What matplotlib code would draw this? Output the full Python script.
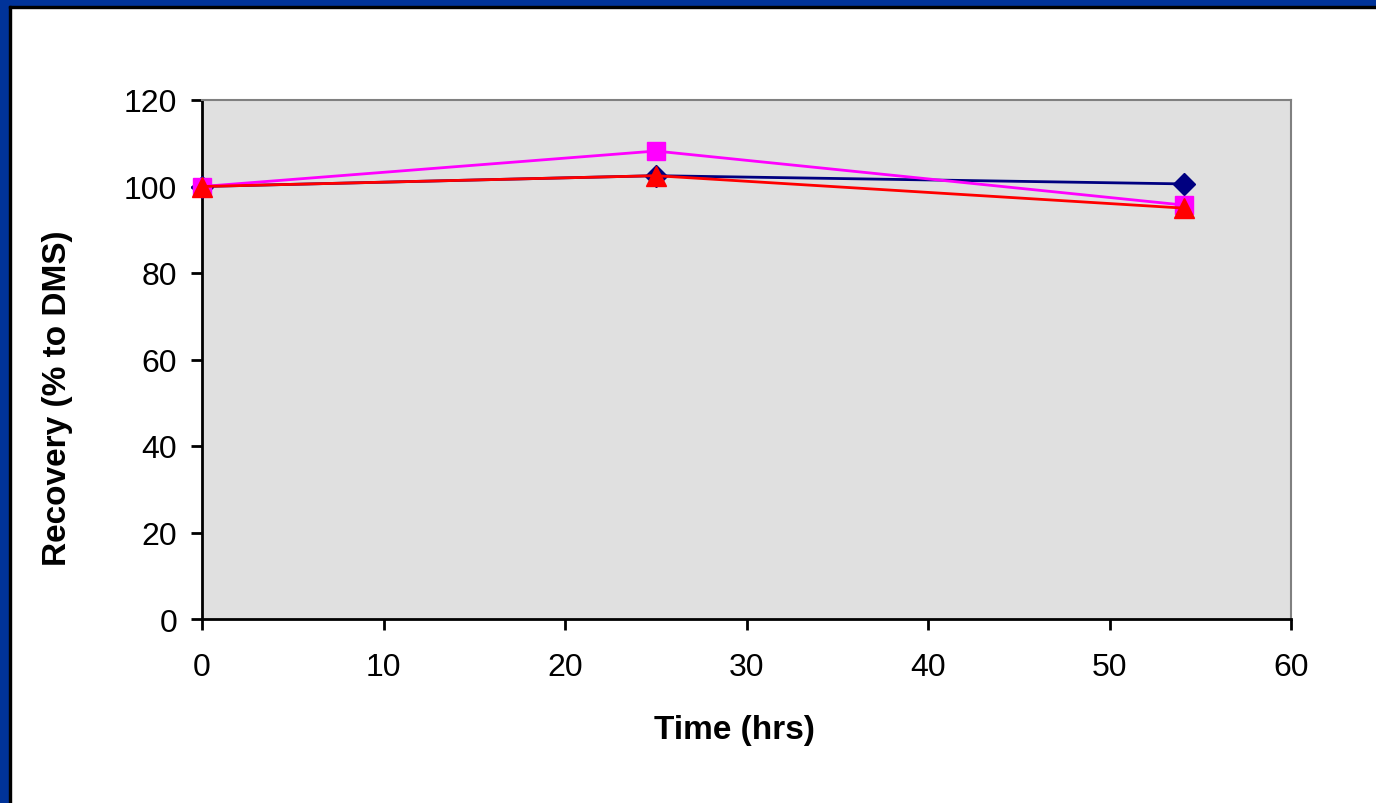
import matplotlib.pyplot as plt
from matplotlib.patches import Rectangle

plt.rcParams['font.family'] = ['Liberation Sans', 'DejaVu Sans']

hours = [0, 25, 54.1]
series_navy = [100, 102.5, 100.6]
series_magenta = [100, 108.2, 95.7]
series_red = [100, 102.5, 95.0]

W, H = 1376, 804
fig = plt.figure(figsize=(W / 100, H / 100), dpi=100)

# frame: blue bands at top and left with a thin black edge
fig.patches.append(Rectangle((0, 0), 9 / W, 1, transform=fig.transFigure, color='#003399', zorder=0))
fig.patches.append(Rectangle((0, 1 - 7 / H), 1, 7 / H, transform=fig.transFigure, color='#003399', zorder=0))
fig.patches.append(Rectangle((9 / W, 0), 2 / W, 1 - 7 / H, transform=fig.transFigure, color='black', zorder=0))
fig.patches.append(Rectangle((9 / W, 1 - 9 / H), 1, 2 / H, transform=fig.transFigure, color='black', zorder=0))

ax = fig.add_axes([202 / W, 1 - 620 / H, (1291 - 202) / W, (620 - 101) / H])
ax.set_facecolor('#E0E0E0')

ax.plot(hours, series_navy, color='#000080', lw=2, marker='D', ms=11, clip_on=False, zorder=3)
ax.plot(hours, series_magenta, color='#FF00FF', lw=2, marker='s', ms=13, clip_on=False, zorder=4)
ax.plot(hours, series_red, color='#FF0000', lw=2, marker='^', ms=15, clip_on=False, zorder=5)

ax.set_xlim(0, 60)
ax.set_ylim(0, 120)
ax.set_xticks(range(0, 61, 10))
ax.set_yticks(range(0, 121, 20))
ax.tick_params(direction='out', length=8, width=2, labelsize=23)
ax.tick_params(axis='x', pad=16)
ax.tick_params(axis='y', pad=10)
ax.spines['left'].set_linewidth(2)
ax.spines['bottom'].set_linewidth(2)
ax.spines['right'].set_color('#808080')
ax.spines['top'].set_color('#808080')
ax.spines['right'].set_linewidth(1.5)
ax.spines['top'].set_linewidth(1.5)

ax.set_xlabel('Time (hrs)', fontsize=24, fontweight='bold', va='center')
ax.set_ylabel('Recovery (% to DMS)', fontsize=24, fontweight='bold', va='center')
ax.xaxis.set_label_coords(0.489, -0.212)
ax.yaxis.set_label_coords(-0.133, 0.428)

fig.savefig('out.png', dpi=100, facecolor='white')
